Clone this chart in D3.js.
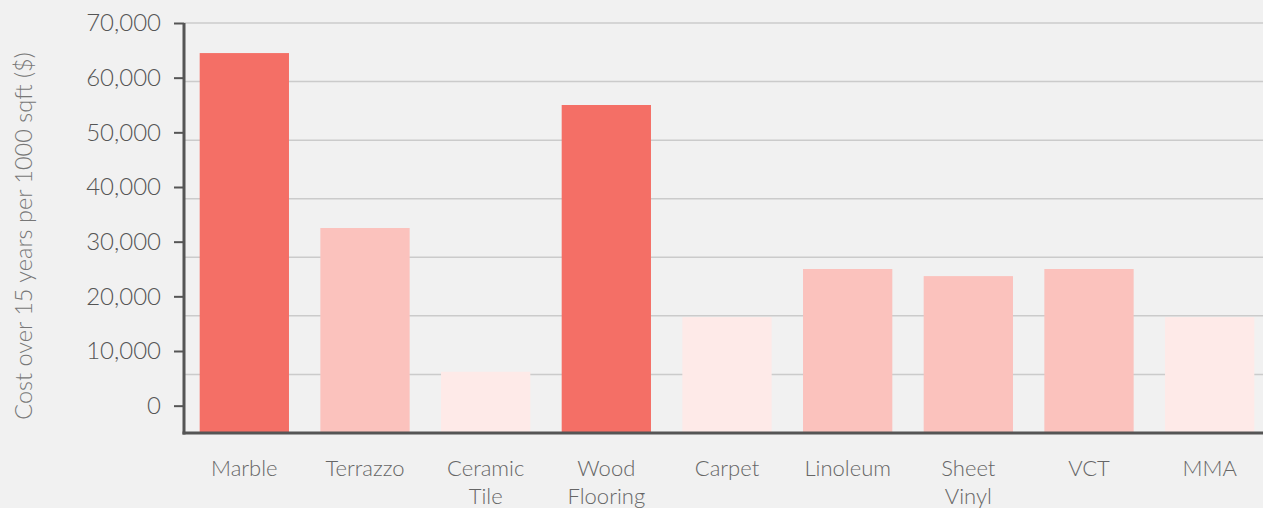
<!DOCTYPE html>
<html>
<head>
<meta charset="utf-8">
<script src="https://cdn.jsdelivr.net/npm/d3@7"></script>
<style>
  html, body { margin: 0; padding: 0; background: #f1f1f1; overflow: hidden; }
  svg { display: block; }
  text { font-family: Lato, "Open Sans", sans-serif; font-weight: 300; }
</style>
</head>
<body>
<svg id="chart" width="1263" height="508"></svg>
<script>
const categories = [["Marble"], ["Terrazzo"], ["Ceramic", "Tile"], ["Wood", "Flooring"], ["Carpet"], ["Linoleum"], ["Sheet", "Vinyl"], ["VCT"], ["MMA"]];
const values = [64500, 32500, 6200, 55000, 16200, 25000, 23700, 25000, 16200];
const tiers = [2, 1, 0, 2, 0, 1, 1, 1, 0];
const tierColors = ["#feeae8", "#fbc2bd", "#f46f66"];
const yTicks = [0, 10000, 20000, 30000, 40000, 50000, 60000, 70000];
const yTitle = "Cost over 15 years per 1000 sqft ($)";

(function () {
const svg = d3.select("#chart");
const W = 1263, H = 508;
const pLeft = 184, pRight = 1270, pTop = 23, pBottom = 433;

const x = d3.scaleBand()
  .domain(d3.range(categories.length))
  .range([pLeft, pRight])
  .paddingInner(0.26)
  .paddingOuter(0.13);

const y = d3.scaleLinear().domain([-5000, 70000]).range([pBottom, pTop]);

svg.append("rect").attr("width", W).attr("height", H).attr("fill", "#f1f1f1");

// gridlines: 7 equal divisions of the plot area
const gridG = svg.append("g");
d3.range(7).forEach(i => {
  const gy = pTop + (pBottom - pTop) * i / 7;
  gridG.append("line")
    .attr("x1", pLeft).attr("x2", W)
    .attr("y1", gy).attr("y2", gy)
    .attr("stroke", "#cbcbcb").attr("stroke-width", 1.5);
});

// bars
svg.append("g").selectAll("rect")
  .data(values)
  .join("rect")
  .attr("x", (d, i) => x(i))
  .attr("width", x.bandwidth())
  .attr("y", d => y(d))
  .attr("height", d => pBottom - y(d))
  .attr("fill", (d, i) => tierColors[tiers[i]]);

// y axis
const yAxis = d3.axisLeft(y)
  .tickValues(yTicks)
  .tickSize(10)
  .tickPadding(13)
  .tickFormat(d3.format(","));
const yg = svg.append("g").attr("transform", `translate(${pLeft},0)`).call(yAxis);
yg.select(".domain").remove();
yg.selectAll(".tick line").attr("stroke", "#555").attr("stroke-width", 2);
yg.selectAll(".tick text")
  .attr("fill", "#555")
  .style("font-size", "24px")
  .style("font-family", "Lato, sans-serif");

// axis lines
svg.append("line")
  .attr("x1", pLeft).attr("x2", pLeft)
  .attr("y1", pTop).attr("y2", pBottom + 1.5)
  .attr("stroke", "#555").attr("stroke-width", 3);
svg.append("line")
  .attr("x1", pLeft - 1.5).attr("x2", W)
  .attr("y1", pBottom).attr("y2", pBottom)
  .attr("stroke", "#555").attr("stroke-width", 3);

// x labels
const xl = svg.append("g");
categories.forEach((lines, i) => {
  const t = xl.append("text")
    .attr("x", x(i) + x.bandwidth() / 2)
    .attr("y", 476)
    .attr("text-anchor", "middle")
    .attr("fill", "#666")
    .style("font-size", "22px");
  lines.forEach((ln, j) => {
    t.append("tspan")
      .attr("x", x(i) + x.bandwidth() / 2)
      .attr("dy", j === 0 ? 0 : 28)
      .text(ln);
  });
});

// y title
svg.append("text")
  .attr("transform", `translate(32,${(pTop + pBottom) / 2 + 8}) rotate(-90)`)
  .attr("text-anchor", "middle")
  .attr("fill", "#777")
  .style("font-size", "23.5px")
  .text(yTitle);
})();
</script>
</body>
</html>
